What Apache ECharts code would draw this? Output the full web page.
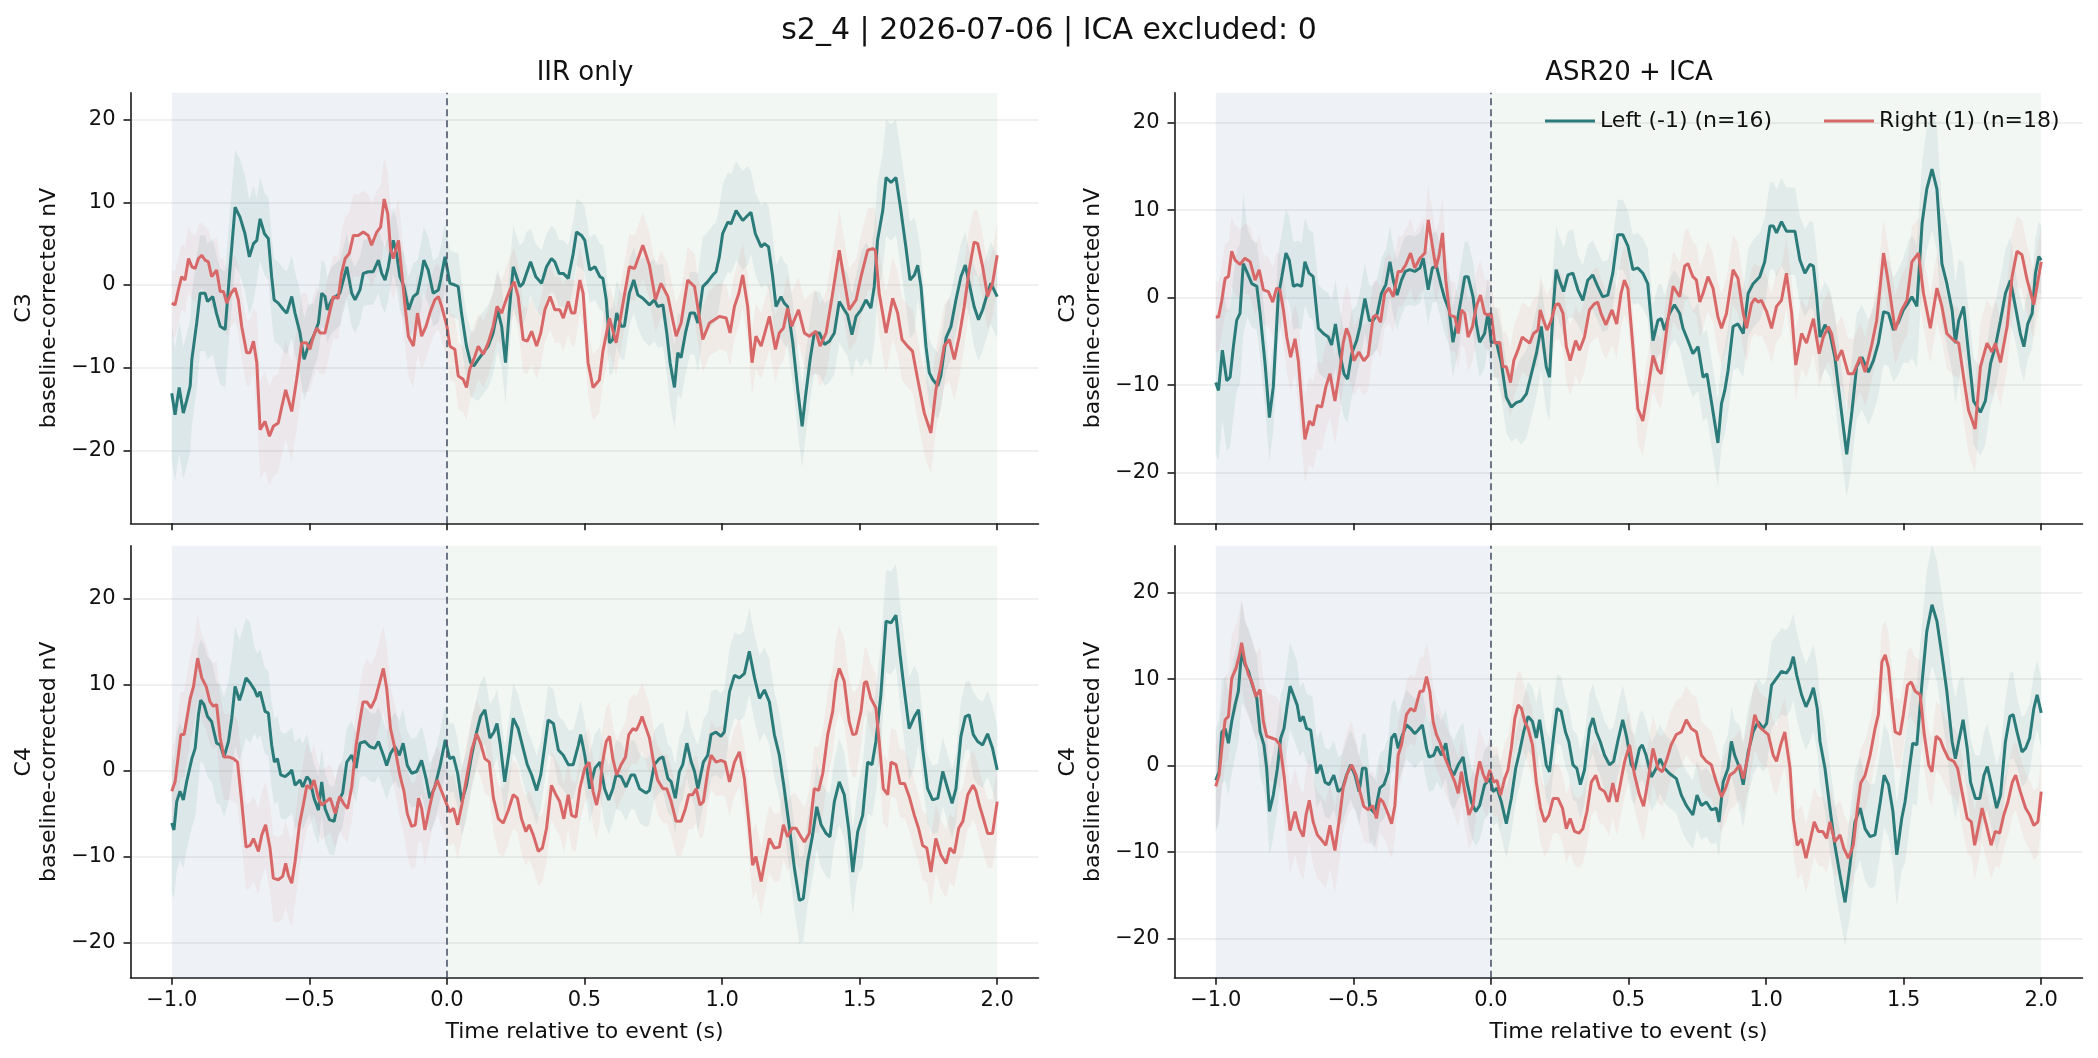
<!DOCTYPE html>
<html>
<head>
<meta charset="utf-8">
<script src="https://cdn.jsdelivr.net/npm/echarts@6/dist/echarts.min.js"></script>
<style>html,body{margin:0;padding:0;background:#fff}</style>
</head>
<body>
<div id="main" style="width:2098px;height:1058px"></div>
<script>
// class names as in the legend
var leftName = 'Left (-1) (n=16)';
var rightName = 'Right (1) (n=18)';

// mean traces, [time s, value nV]
var iirC3Left = [[-1.000,-13.1],[-0.988,-15.7],[-0.973,-12.4],[-0.958,-15.5],[-0.946,-14],[-0.933,-12.2],[-0.927,-9],[-0.909,-4.5],[-0.897,-1],[-0.879,-1],[-0.870,-2],[-0.851,-1.4],[-0.837,-3.5],[-0.824,-5],[-0.806,-5.4],[-0.788,2.2],[-0.770,9.4],[-0.752,8.2],[-0.734,6.2],[-0.718,3.4],[-0.703,5],[-0.691,5.4],[-0.679,8],[-0.663,6.2],[-0.649,5.6],[-0.637,1],[-0.628,-1.8],[-0.613,-2.2],[-0.594,-3],[-0.582,-3.4],[-0.564,-1.4],[-0.552,-3.4],[-0.534,-5.8],[-0.519,-9],[-0.504,-7.4],[-0.485,-6.2],[-0.467,-4.6],[-0.455,-1],[-0.443,-1.4],[-0.435,-3],[-0.419,-1.8],[-0.389,-1],[-0.364,2.2],[-0.346,-1],[-0.334,-1.8],[-0.316,-0.6],[-0.304,1.4],[-0.286,1.6],[-0.268,1.6],[-0.249,3],[-0.237,1.4],[-0.225,0.6],[-0.213,2.2],[-0.205,3.8],[-0.195,5.4],[-0.183,3.8],[-0.171,1],[-0.156,-0.2],[-0.139,-3],[-0.122,-1.4],[-0.107,-1],[-0.092,1.4],[-0.084,3],[-0.068,1.8],[-0.050,-1],[-0.031,-0.6],[-0.023,0.6],[-0.007,3.4],[0.011,0.2],[0.029,0],[0.041,-0.2],[0.053,-3.4],[0.071,-7.4],[0.086,-9.4],[0.098,-9.8],[0.114,-9],[0.132,-8.2],[0.150,-7.4],[0.168,-5.8],[0.184,-3],[0.199,-5],[0.213,-9.4],[0.226,-3.4],[0.241,2.2],[0.253,1],[0.265,-0.2],[0.277,0.2],[0.289,1.4],[0.304,2.8],[0.323,1],[0.344,0.2],[0.362,2.2],[0.380,3.2],[0.392,2.8],[0.408,1.4],[0.423,1.4],[0.441,0.8],[0.459,3.8],[0.471,6.4],[0.489,6],[0.501,5.4],[0.519,1.8],[0.538,2.2],[0.556,1],[0.567,0.8],[0.579,-1.8],[0.591,-7],[0.603,-6.6],[0.617,-3.4],[0.633,-5],[0.645,-5],[0.663,-1],[0.679,0.6],[0.694,-1.2],[0.712,-1.6],[0.736,-2.4],[0.754,-1.8],[0.766,-2.6],[0.785,-2.4],[0.799,-5.8],[0.811,-9.4],[0.827,-12.4],[0.839,-8.2],[0.851,-8.8],[0.867,-5.8],[0.884,-3.4],[0.900,-3.4],[0.912,-4.6],[0.930,-0.2],[0.948,0.4],[0.966,1.2],[0.978,1.6],[0.990,3.4],[1.002,6.2],[1.021,7.6],[1.033,7.4],[1.051,9],[1.075,7.8],[1.093,8.4],[1.105,8.8],[1.121,6.2],[1.142,4.6],[1.154,5],[1.169,4.6],[1.184,1],[1.196,-2.6],[1.214,-1.4],[1.226,-2.2],[1.238,-2.6],[1.257,-7],[1.275,-12.7],[1.291,-17.1],[1.305,-13],[1.320,-9],[1.335,-5.8],[1.354,-5.8],[1.372,-7.2],[1.390,-6.8],[1.408,-5.8],[1.426,-2],[1.444,-3],[1.456,-3.6],[1.472,-6],[1.487,-3.8],[1.505,-3],[1.523,-1.8],[1.541,-2.8],[1.553,-0.2],[1.565,5.4],[1.584,9],[1.596,13],[1.614,12.4],[1.632,13],[1.650,9],[1.668,4.6],[1.683,0.6],[1.699,1.2],[1.711,2.4],[1.723,-0.2],[1.741,-7.4],[1.753,-10.6],[1.765,-11.4],[1.784,-12.2],[1.795,-11],[1.814,-6.4],[1.832,-5],[1.850,-1.8],[1.868,1],[1.884,2.4],[1.898,0.2],[1.916,-2.6],[1.932,-4.2],[1.947,-3],[1.961,-1.4],[1.977,0.2],[2.000,-1.4]];
var iirC3Right = [[-1.000,-2.2],[-0.988,-2.4],[-0.976,-0.6],[-0.964,1],[-0.952,0.6],[-0.939,3.2],[-0.927,2.2],[-0.915,2],[-0.903,3.2],[-0.891,3.6],[-0.879,3],[-0.867,2.8],[-0.855,1],[-0.837,1.8],[-0.824,-0.8],[-0.812,-0.8],[-0.800,-2.2],[-0.785,-1],[-0.770,-0.4],[-0.758,-1.8],[-0.746,-5],[-0.728,-8.2],[-0.716,-8.2],[-0.703,-6.8],[-0.691,-9.4],[-0.679,-17.5],[-0.661,-16.5],[-0.645,-18.3],[-0.631,-17.1],[-0.613,-16.7],[-0.600,-14.7],[-0.586,-12.7],[-0.564,-15.3],[-0.546,-11.4],[-0.528,-7],[-0.510,-7],[-0.498,-7.8],[-0.485,-6.2],[-0.473,-5.2],[-0.461,-5.8],[-0.443,-5.8],[-0.427,-3.4],[-0.413,-1.4],[-0.395,-1.6],[-0.383,1.4],[-0.370,3.2],[-0.355,3.8],[-0.340,6],[-0.322,6],[-0.304,6.4],[-0.286,6],[-0.274,4.8],[-0.255,6.4],[-0.241,7],[-0.228,10.4],[-0.215,8.6],[-0.205,4.4],[-0.195,3.2],[-0.176,5.4],[-0.164,1.4],[-0.152,-2.6],[-0.140,-6.2],[-0.122,-7.4],[-0.107,-3.4],[-0.092,-6.2],[-0.076,-5],[-0.062,-3.4],[-0.044,-1.8],[-0.031,-1.4],[-0.019,-2.6],[0.000,-5],[0.011,-7.4],[0.029,-7.8],[0.041,-11],[0.059,-11.4],[0.071,-12.4],[0.083,-10.2],[0.102,-8.6],[0.114,-7.4],[0.132,-8.4],[0.150,-7],[0.168,-5],[0.182,-2.6],[0.199,-3.4],[0.215,-1.8],[0.229,-0.6],[0.244,0.4],[0.259,-1.4],[0.277,-6.6],[0.292,-6.8],[0.308,-5.6],[0.326,-7.4],[0.341,-5.8],[0.356,-3],[0.375,-1.4],[0.392,-3],[0.410,-3],[0.423,-4],[0.441,-2],[0.453,-3.4],[0.465,-3.4],[0.483,0.6],[0.495,-1],[0.513,-9.4],[0.531,-12.4],[0.554,-11.5],[0.567,-8],[0.591,-4],[0.615,-7],[0.663,2.2],[0.682,2],[0.712,4.8],[0.736,2.4],[0.758,-1.8],[0.778,0.2],[0.803,-1.4],[0.833,-6.2],[0.851,-4.6],[0.875,0.6],[0.900,-0.2],[0.930,-6.6],[0.954,-4.6],[0.972,-4.2],[0.990,-3.8],[1.015,-4],[1.029,-5.8],[1.045,-2.6],[1.061,-1],[1.075,1.2],[1.093,-2.6],[1.109,-9.4],[1.123,-6.2],[1.142,-7.4],[1.172,-3.8],[1.194,-7.8],[1.208,-5.8],[1.223,-5.2],[1.238,-2.8],[1.253,-5],[1.278,-3],[1.299,-5.8],[1.317,-6.2],[1.341,-5.6],[1.356,-7.4],[1.378,-5.8],[1.402,-1],[1.426,4.2],[1.444,0.6],[1.462,-3],[1.487,-1.8],[1.505,1],[1.529,4.2],[1.547,4.4],[1.557,4.2],[1.571,-1],[1.596,-5.8],[1.620,-1.6],[1.638,-3.4],[1.654,-6.6],[1.674,-7.4],[1.692,-8],[1.711,-11.4],[1.735,-15.5],[1.759,-17.9],[1.777,-12.7],[1.795,-9.8],[1.807,-7.4],[1.826,-6.6],[1.844,-9],[1.862,-6.2],[1.880,-2.6],[1.898,1.8],[1.916,5.2],[1.929,5],[1.947,2.2],[1.965,-1.4],[1.983,0.2],[2.000,3.6]];
var asrC3Left = [[-1.000,-9.7],[-0.990,-10.6],[-0.976,-6],[-0.960,-9.5],[-0.948,-9.1],[-0.936,-5.6],[-0.924,-2.6],[-0.912,-1.8],[-0.900,3.9],[-0.885,2.8],[-0.869,1.6],[-0.851,1.3],[-0.839,-1.8],[-0.821,-7.5],[-0.805,-13.7],[-0.791,-10.2],[-0.773,0.1],[-0.760,2.4],[-0.745,5.1],[-0.733,4.3],[-0.718,1.3],[-0.704,1.5],[-0.688,1.3],[-0.676,4.1],[-0.661,2.8],[-0.646,2.4],[-0.627,-3.5],[-0.609,-4.1],[-0.591,-4.5],[-0.579,-5.4],[-0.565,-3],[-0.549,-6.4],[-0.534,-8.7],[-0.521,-9.3],[-0.506,-6.4],[-0.488,-4.9],[-0.476,-3.3],[-0.458,-0.1],[-0.442,-2.6],[-0.428,-2.6],[-0.413,-1.8],[-0.398,0.5],[-0.382,1.5],[-0.367,4.1],[-0.355,2],[-0.341,0.3],[-0.325,2],[-0.311,3],[-0.295,3.2],[-0.277,3],[-0.258,3.4],[-0.246,4.5],[-0.228,0.9],[-0.213,3.4],[-0.198,3.6],[-0.180,1.3],[-0.168,-0.1],[-0.152,-1.4],[-0.138,-5.1],[-0.122,-2.6],[-0.107,0.1],[-0.095,2.4],[-0.083,2.4],[-0.065,0.1],[-0.053,-3],[-0.041,-5.1],[-0.023,-4.1],[-0.011,-1.8],[0.001,-5.1],[0.020,-5.1],[0.038,-7.5],[0.056,-11.4],[0.074,-12.5],[0.092,-12],[0.110,-11.8],[0.129,-11],[0.147,-8.7],[0.165,-6.4],[0.183,-3.3],[0.201,-7.9],[0.213,-9.1],[0.225,-1.8],[0.237,3.2],[0.249,2],[0.264,0.7],[0.280,2.6],[0.298,2.8],[0.316,0.9],[0.334,-0.3],[0.352,2],[0.370,2.6],[0.388,1.3],[0.406,0.1],[0.425,0.3],[0.443,2.8],[0.461,7.2],[0.479,7.2],[0.498,5.9],[0.516,3.2],[0.534,3.4],[0.552,2.8],[0.570,1.6],[0.589,-4.9],[0.607,-2.6],[0.619,-2.4],[0.631,-3.7],[0.649,-1.8],[0.667,-0.8],[0.686,-1.8],[0.698,-3.5],[0.716,-4.9],[0.734,-6.4],[0.753,-5.6],[0.771,-9.1],[0.785,-8.7],[0.801,-11.8],[0.825,-16.6],[0.838,-12.1],[0.850,-10.6],[0.862,-8.3],[0.880,-3.3],[0.898,-3],[0.917,-4.1],[0.935,0.5],[0.953,1.6],[0.977,2.4],[0.995,4.1],[1.014,8.2],[1.026,8.2],[1.038,7.4],[1.056,8.7],[1.074,7.6],[1.105,7.6],[1.123,4.3],[1.141,2.8],[1.159,3.8],[1.172,3.6],[1.184,0.1],[1.196,-4.5],[1.214,-3.1],[1.232,-4.1],[1.250,-6.8],[1.269,-11.8],[1.293,-17.9],[1.311,-13.3],[1.329,-7.9],[1.348,-6.8],[1.372,-8.5],[1.390,-7.2],[1.408,-5.2],[1.427,-1.6],[1.445,-1.8],[1.463,-3.7],[1.481,-2.8],[1.499,-1.4],[1.518,-0.5],[1.530,0.1],[1.548,-1],[1.567,8.5],[1.584,12.4],[1.603,14.7],[1.621,12.4],[1.639,3.9],[1.657,1.6],[1.676,-1.4],[1.688,-5.2],[1.700,-2.6],[1.718,-1],[1.736,-6.4],[1.754,-11.8],[1.779,-13.1],[1.797,-11.8],[1.816,-7.5],[1.833,-5.6],[1.852,-2.6],[1.870,0.5],[1.888,2],[1.906,-1],[1.924,-4.1],[1.937,-5.6],[1.951,-3],[1.967,-1.8],[1.979,2.8],[1.991,4.7],[2.000,4.3]];
var asrC3Right = [[-1.000,-2.2],[-0.990,-2.2],[-0.978,-0.3],[-0.966,2.2],[-0.954,2.4],[-0.942,5.3],[-0.930,4.3],[-0.912,3.8],[-0.894,4.5],[-0.875,4.1],[-0.857,2],[-0.842,3.2],[-0.827,0.9],[-0.809,0.7],[-0.793,-0.5],[-0.779,1.1],[-0.767,0.9],[-0.754,-1.4],[-0.742,-4.5],[-0.728,-6.8],[-0.712,-4.7],[-0.700,-7.2],[-0.688,-11.8],[-0.676,-16.2],[-0.660,-14.1],[-0.646,-14.6],[-0.631,-12.3],[-0.615,-12.5],[-0.600,-10.2],[-0.585,-8.7],[-0.567,-11.8],[-0.549,-8.3],[-0.537,-5.2],[-0.525,-3.5],[-0.513,-4.5],[-0.498,-7.2],[-0.480,-6.2],[-0.462,-7.2],[-0.446,-6.6],[-0.428,-2.2],[-0.416,-2],[-0.401,-2.8],[-0.386,0.5],[-0.370,1.1],[-0.355,0.1],[-0.337,3],[-0.325,3],[-0.309,3.8],[-0.292,5.1],[-0.277,3.4],[-0.258,4.5],[-0.240,5.1],[-0.228,8.9],[-0.216,6.6],[-0.200,3.4],[-0.188,4.9],[-0.176,7.4],[-0.164,2],[-0.149,-2],[-0.131,-2.2],[-0.119,-4.1],[-0.107,-1.4],[-0.095,-1.8],[-0.083,-4.5],[-0.067,-3.3],[-0.053,-1],[-0.038,0.3],[-0.023,-1.8],[-0.011,-2],[0.001,-1.8],[0.014,-5.2],[0.032,-5.1],[0.044,-7.9],[0.056,-7.9],[0.071,-9.7],[0.083,-7.2],[0.098,-6],[0.114,-4.5],[0.129,-4.9],[0.141,-5.2],[0.155,-4.1],[0.171,-3.7],[0.179,-1.4],[0.189,-2.4],[0.204,-3.7],[0.219,-2.6],[0.235,-0.8],[0.247,-0.7],[0.262,-1.8],[0.274,-5.6],[0.288,-7.2],[0.308,-4.9],[0.322,-6],[0.340,-4.5],[0.358,-1.4],[0.376,-0.7],[0.388,-0.5],[0.400,-1.8],[0.418,-3.1],[0.440,-1.4],[0.457,-3],[0.473,0.5],[0.485,2],[0.498,1],[0.516,-5.6],[0.534,-12.7],[0.552,-14.1],[0.570,-10.6],[0.589,-6.6],[0.607,-8.3],[0.619,-8.7],[0.643,-2.6],[0.662,1.3],[0.686,0.1],[0.704,3.6],[0.716,3.9],[0.734,2.4],[0.747,2],[0.759,-0.5],[0.771,0.5],[0.789,2.4],[0.807,1.1],[0.825,-2.2],[0.838,-3.5],[0.856,-1.8],[0.880,3.2],[0.898,2.2],[0.917,-1.8],[0.929,-3.5],[0.947,-0.7],[0.959,-0.1],[0.971,-0.5],[0.983,-0.3],[1.002,-1.6],[1.020,-3.5],[1.038,-1],[1.056,-0.3],[1.074,2.8],[1.093,-1.8],[1.108,-7.7],[1.129,-4.1],[1.147,-5.2],[1.172,-2.4],[1.193,-6.4],[1.208,-4.5],[1.226,-3.3],[1.238,-4.1],[1.257,-7.2],[1.275,-6],[1.299,-8.7],[1.317,-8.7],[1.342,-6.8],[1.360,-8.5],[1.384,-5.4],[1.402,-2.6],[1.427,5.1],[1.445,1.6],[1.469,-3.7],[1.493,-1.4],[1.512,-0.3],[1.530,4.1],[1.554,5.1],[1.572,0.5],[1.597,-3.5],[1.621,1.1],[1.639,-1],[1.657,-4.1],[1.682,-4.9],[1.700,-5.2],[1.718,-9.1],[1.736,-12.9],[1.760,-15],[1.779,-7.9],[1.803,-5.2],[1.821,-6.2],[1.833,-5.2],[1.852,-7.4],[1.876,-3.3],[1.894,2.4],[1.912,5.3],[1.930,4.9],[1.949,2],[1.973,-0.8],[2.000,4.1]];
var iirC4Left = [[-1.000,-6.1],[-0.992,-6.9],[-0.982,-3.6],[-0.970,-2.4],[-0.958,-3.4],[-0.946,-1.3],[-0.927,1.4],[-0.915,2.6],[-0.903,6.5],[-0.895,8.2],[-0.883,7.7],[-0.870,6.3],[-0.855,5.7],[-0.837,3.2],[-0.824,3],[-0.810,1.6],[-0.794,3.4],[-0.782,6.1],[-0.770,9.8],[-0.754,8.2],[-0.742,9.4],[-0.730,10.8],[-0.715,10.2],[-0.699,9.4],[-0.689,8.6],[-0.679,9.2],[-0.661,6.9],[-0.649,6.7],[-0.637,3],[-0.627,1],[-0.616,1.4],[-0.604,-0.5],[-0.588,-0.7],[-0.573,-0.3],[-0.564,0.1],[-0.552,-1.7],[-0.534,-1.1],[-0.524,-1.9],[-0.509,-0.7],[-0.498,-1.1],[-0.483,-3.2],[-0.467,-4.6],[-0.455,-1.3],[-0.443,-4.4],[-0.427,-5.7],[-0.410,-5.9],[-0.395,-3.6],[-0.379,-2.6],[-0.364,1],[-0.346,1.8],[-0.330,0.3],[-0.316,3.2],[-0.298,3.4],[-0.280,2.8],[-0.262,2.6],[-0.249,3.4],[-0.231,1.8],[-0.219,0.6],[-0.205,2],[-0.189,2.8],[-0.173,1.8],[-0.159,3.2],[-0.144,0.6],[-0.128,-0.3],[-0.110,-0.1],[-0.092,1.2],[-0.076,-0.9],[-0.062,-3.2],[-0.044,-1.9],[-0.024,0.7],[-0.006,3.6],[0.010,1.4],[0.024,1.6],[0.039,-0.3],[0.054,-3.6],[0.071,-1.7],[0.090,1.8],[0.108,4.5],[0.122,6.3],[0.138,7.1],[0.156,3.8],[0.171,4.5],[0.182,5.5],[0.194,3],[0.210,-1.3],[0.226,2.2],[0.241,6.1],[0.259,4.9],[0.277,2.6],[0.292,0.7],[0.308,-0.5],[0.326,-2.3],[0.341,-0.5],[0.356,3],[0.368,5.9],[0.387,5.5],[0.405,2.4],[0.423,1.8],[0.441,0.7],[0.459,0.7],[0.478,3],[0.486,4.2],[0.501,1.8],[0.519,-2.1],[0.538,0.3],[0.556,1],[0.573,-2.1],[0.588,-3.4],[0.603,-2.1],[0.615,-0.5],[0.633,-0.7],[0.651,-1.9],[0.669,-0.5],[0.682,-0.5],[0.700,-2.1],[0.724,-2.6],[0.736,-2.3],[0.754,0.7],[0.772,1.4],[0.785,1.6],[0.803,-0.9],[0.815,-1.3],[0.830,-3.2],[0.845,-0.1],[0.857,0.7],[0.872,3.2],[0.888,1],[0.900,-0.1],[0.912,-2.1],[0.932,1],[0.948,1.8],[0.960,4.2],[0.978,4.5],[0.996,4],[1.008,4.5],[1.027,9.2],[1.045,11.1],[1.063,10.8],[1.081,11.3],[1.099,13.9],[1.118,10.8],[1.136,8.4],[1.154,9.4],[1.172,8],[1.190,4.2],[1.208,1.8],[1.226,-2.1],[1.245,-6.7],[1.263,-11.4],[1.281,-15.1],[1.295,-14.9],[1.311,-10.6],[1.329,-7.5],[1.344,-4.2],[1.360,-6.3],[1.378,-7.3],[1.392,-7.7],[1.408,-3.6],[1.426,-1.3],[1.444,-2.8],[1.460,-6.7],[1.475,-11.8],[1.493,-7.1],[1.511,-5.2],[1.529,1],[1.545,0.7],[1.559,3.4],[1.577,8.8],[1.596,17.4],[1.614,17.2],[1.632,18.1],[1.647,13.5],[1.663,9.2],[1.680,4.9],[1.699,6.3],[1.714,7.1],[1.729,2.6],[1.747,-2.1],[1.765,-3.4],[1.784,-3.2],[1.802,-0.1],[1.820,-2.1],[1.836,-3.8],[1.850,-2.1],[1.868,4],[1.884,6.3],[1.898,6.5],[1.913,4.2],[1.929,3.4],[1.947,3],[1.965,4.3],[1.983,2.6],[2.000,0.1]];
var iirC4Right = [[-1.000,-2.4],[-0.988,-1.3],[-0.976,1.8],[-0.967,4.2],[-0.955,4.2],[-0.946,5.9],[-0.933,8.4],[-0.921,9.8],[-0.906,13.1],[-0.891,10.8],[-0.875,9.8],[-0.861,8],[-0.849,7.5],[-0.837,7.7],[-0.824,3.8],[-0.810,1.6],[-0.794,1.6],[-0.776,1.4],[-0.761,1],[-0.746,-3.6],[-0.730,-8.9],[-0.715,-8.7],[-0.703,-7.9],[-0.685,-9.4],[-0.673,-7.5],[-0.659,-6.3],[-0.643,-9],[-0.631,-12.5],[-0.613,-12.7],[-0.597,-12.3],[-0.586,-10.8],[-0.576,-12.2],[-0.564,-13.1],[-0.552,-10.6],[-0.536,-6.3],[-0.522,-4],[-0.509,-1.7],[-0.495,-2.1],[-0.483,-1.1],[-0.467,-3.2],[-0.455,-4],[-0.439,-3.6],[-0.424,-3.2],[-0.406,-5],[-0.390,-3],[-0.376,-3.8],[-0.361,-4.4],[-0.346,-1.9],[-0.330,3],[-0.317,5.7],[-0.305,8],[-0.291,8],[-0.276,7.3],[-0.260,8.4],[-0.245,10.2],[-0.231,11.9],[-0.219,9.6],[-0.205,4.9],[-0.189,2.6],[-0.171,-0.5],[-0.156,-2.4],[-0.144,-5],[-0.128,-6.5],[-0.115,-6.3],[-0.103,-3.2],[-0.092,-4.4],[-0.080,-6.9],[-0.064,-4.4],[-0.050,-2.4],[-0.035,-1.1],[-0.023,-2.1],[-0.007,-3.4],[0.010,-4.8],[0.024,-4.4],[0.039,-6.3],[0.054,-4],[0.071,-0.9],[0.090,2.4],[0.108,4.3],[0.122,3.2],[0.138,1.4],[0.154,1],[0.169,-3.2],[0.187,-5.6],[0.205,-6.1],[0.223,-4.6],[0.241,-2.8],[0.256,-3.2],[0.271,-5.6],[0.287,-7.1],[0.299,-6.3],[0.314,-7.5],[0.332,-9.4],[0.347,-9],[0.362,-6.7],[0.380,-1.7],[0.396,-2.8],[0.410,-3.6],[0.425,-5.6],[0.441,-2.8],[0.453,-5.2],[0.469,-5.4],[0.483,-2.1],[0.501,0.3],[0.517,1],[0.531,-2.4],[0.544,-4],[0.556,-2.1],[0.564,0.7],[0.579,3.4],[0.591,4],[0.603,1.4],[0.617,-0.5],[0.633,0.7],[0.649,1.6],[0.661,4.2],[0.676,4.9],[0.688,4.7],[0.700,5.5],[0.709,6.3],[0.722,5.1],[0.736,3.8],[0.751,1],[0.766,-1.1],[0.785,-2.1],[0.799,-2.1],[0.815,-3.6],[0.833,-5.9],[0.851,-5.9],[0.867,-4.4],[0.879,-2.8],[0.893,-2.8],[0.906,-2.1],[0.920,-4],[0.932,-3.6],[0.948,-0.1],[0.960,1.8],[0.978,1],[0.996,1.2],[1.011,1],[1.027,-1.3],[1.045,1],[1.063,2.2],[1.081,-0.9],[1.097,-5.9],[1.111,-11],[1.123,-10],[1.142,-12.9],[1.154,-10.8],[1.172,-7.9],[1.190,-9],[1.208,-8.9],[1.223,-6.3],[1.238,-7.7],[1.254,-6.7],[1.269,-6.7],[1.283,-7.5],[1.299,-8.3],[1.317,-7.3],[1.335,-2.1],[1.351,-2.3],[1.366,-0.3],[1.384,4.2],[1.402,6.9],[1.414,10.4],[1.426,11.9],[1.444,10.4],[1.462,5.7],[1.475,4.2],[1.487,4.3],[1.505,6.9],[1.517,10.2],[1.525,10.4],[1.541,8.4],[1.559,7.3],[1.571,3.4],[1.586,-2.1],[1.602,-2.8],[1.614,1],[1.632,0.7],[1.647,-1.5],[1.663,-1.5],[1.680,-3],[1.699,-5.2],[1.714,-6.7],[1.729,-8.7],[1.744,-9],[1.759,-11.8],[1.777,-7.9],[1.795,-9.8],[1.814,-10.8],[1.828,-9],[1.844,-9.6],[1.860,-6.7],[1.875,-5.9],[1.893,-2.8],[1.912,-1.7],[1.923,-2.4],[1.935,-4],[1.950,-5.6],[1.965,-7.3],[1.983,-7.3],[2.000,-3.6]];
var asrC4Left = [[-1.000,-1.7],[-0.988,-0.7],[-0.978,3.9],[-0.966,4.3],[-0.954,2.6],[-0.942,5.1],[-0.930,7],[-0.918,8.6],[-0.906,13.2],[-0.894,11.7],[-0.881,10.9],[-0.866,9.2],[-0.851,7.8],[-0.839,3.9],[-0.825,2.4],[-0.815,-0.3],[-0.805,-5.3],[-0.791,-3.4],[-0.776,-0.3],[-0.764,3.2],[-0.752,4.3],[-0.742,6.6],[-0.730,9.2],[-0.718,8.2],[-0.704,7],[-0.694,5.1],[-0.682,5.7],[-0.670,4.3],[-0.655,4.1],[-0.648,3.9],[-0.633,-0.9],[-0.619,0.1],[-0.603,-1.9],[-0.588,-2.2],[-0.571,-1.1],[-0.555,-3],[-0.539,-2.6],[-0.525,-1.1],[-0.510,0.1],[-0.494,-1.1],[-0.479,-3],[-0.467,-0.3],[-0.454,-0.3],[-0.440,-4.9],[-0.422,-5.5],[-0.404,-2.6],[-0.389,-2.2],[-0.373,-0.7],[-0.361,3.2],[-0.349,3.7],[-0.337,2],[-0.321,3.6],[-0.307,4.7],[-0.292,4.3],[-0.277,3.7],[-0.265,4.1],[-0.249,4.7],[-0.234,2],[-0.225,1],[-0.208,1.2],[-0.196,2.2],[-0.180,1.2],[-0.164,2.6],[-0.149,-0.3],[-0.135,-1.1],[-0.119,0.1],[-0.101,1],[-0.087,-1.9],[-0.071,-4.2],[-0.055,-5.3],[-0.041,-4.6],[-0.023,-2.2],[-0.004,-1.5],[0.008,-3],[0.022,-2.6],[0.038,-4.2],[0.056,-6.7],[0.074,-3.8],[0.090,-0.3],[0.104,1.6],[0.119,3.9],[0.135,5.7],[0.151,5.1],[0.165,3.2],[0.177,5.3],[0.189,2.8],[0.201,0.1],[0.213,-0.7],[0.227,3.2],[0.240,6.6],[0.255,6.3],[0.271,3.9],[0.283,2.8],[0.298,0.1],[0.312,-0.3],[0.325,-2.2],[0.340,-0.5],[0.358,4.3],[0.371,5.5],[0.383,3.9],[0.397,2.8],[0.413,1.2],[0.431,0.1],[0.446,0.5],[0.461,2.8],[0.479,5.3],[0.494,3.2],[0.510,0.1],[0.522,-0.5],[0.540,2],[0.550,2.4],[0.564,1.2],[0.583,-1.3],[0.601,-0.3],[0.615,0.8],[0.631,-0.3],[0.649,-0.9],[0.674,-1.5],[0.692,-3.4],[0.710,-4.6],[0.734,-5.7],[0.749,-3.4],[0.765,-4.6],[0.783,-4.2],[0.801,-5.1],[0.819,-4.9],[0.829,-6.5],[0.844,-1.9],[0.862,-0.3],[0.874,2.8],[0.886,1.2],[0.904,-0.3],[0.917,-2.2],[0.935,1.6],[0.953,3.9],[0.971,5.1],[0.989,4.3],[1.002,4.9],[1.020,9.3],[1.038,10.1],[1.056,10.9],[1.074,10.7],[1.087,11.3],[1.099,12.6],[1.111,10.5],[1.129,8.2],[1.145,6.8],[1.159,7.8],[1.172,9],[1.186,6.6],[1.196,2.8],[1.214,-0.3],[1.232,-4.9],[1.250,-9.2],[1.269,-12.7],[1.287,-15.8],[1.305,-11.5],[1.323,-6.5],[1.342,-4.9],[1.360,-7.3],[1.378,-8.2],[1.396,-8],[1.415,-4.2],[1.429,-1.1],[1.445,-2.2],[1.461,-5.3],[1.475,-10.3],[1.493,-6.1],[1.505,-4.2],[1.521,-0.3],[1.533,2.6],[1.548,2.4],[1.566,9.3],[1.584,15.5],[1.603,18.6],[1.621,16.7],[1.639,12.8],[1.657,8.6],[1.676,2.8],[1.688,0.8],[1.700,2.8],[1.716,5.3],[1.731,2],[1.743,-1.9],[1.761,-3.8],[1.777,-3.8],[1.792,-1.1],[1.804,-0.1],[1.822,-2.6],[1.838,-4.9],[1.852,-3.4],[1.870,2.8],[1.886,5.7],[1.898,5.9],[1.912,3.9],[1.930,1.6],[1.943,2],[1.958,3.2],[1.973,6.6],[1.985,8.2],[2.000,6.1]];
var asrC4Right = [[-1.000,-2.4],[-0.988,-1.1],[-0.978,2],[-0.966,5.3],[-0.954,5.7],[-0.942,10.1],[-0.926,11.3],[-0.914,12.8],[-0.906,14.2],[-0.894,12],[-0.881,10.5],[-0.869,9.7],[-0.854,8],[-0.839,8.8],[-0.827,5.1],[-0.815,3.4],[-0.797,3.2],[-0.781,3],[-0.767,2.4],[-0.752,-1.1],[-0.742,-4.2],[-0.730,-7.5],[-0.712,-5.3],[-0.696,-7.3],[-0.682,-8.2],[-0.672,-5.7],[-0.660,-4],[-0.646,-6.5],[-0.631,-8],[-0.615,-8.6],[-0.600,-9.2],[-0.585,-6.9],[-0.567,-9.8],[-0.549,-5.7],[-0.537,-2.6],[-0.522,-0.9],[-0.506,0.1],[-0.490,-1.1],[-0.476,-3],[-0.462,-4.7],[-0.446,-5.1],[-0.430,-4.6],[-0.416,-6.1],[-0.404,-3.8],[-0.392,-4.2],[-0.377,-5.3],[-0.361,-6.7],[-0.349,-4.6],[-0.337,1.2],[-0.325,2.4],[-0.307,5.9],[-0.292,6.6],[-0.277,6.3],[-0.258,8.6],[-0.246,8.6],[-0.234,10.3],[-0.222,8.6],[-0.210,5.1],[-0.198,3.6],[-0.184,2.6],[-0.168,1],[-0.149,-0.5],[-0.131,-1.9],[-0.119,-3.2],[-0.107,-0.7],[-0.095,-3],[-0.080,-5.7],[-0.065,-4.6],[-0.053,-1.5],[-0.041,0.5],[-0.029,-0.9],[-0.016,-1.9],[-0.004,-0.5],[0.010,-1.9],[0.022,-1.7],[0.035,-3.4],[0.050,-1.5],[0.062,-0.5],[0.074,2],[0.087,5.5],[0.099,7],[0.111,6.6],[0.123,5.1],[0.135,4.3],[0.151,2.4],[0.165,-1.9],[0.180,-4.9],[0.195,-6.5],[0.211,-5.7],[0.226,-3.8],[0.244,-3.8],[0.260,-4.9],[0.274,-7.3],[0.288,-6.1],[0.304,-7.6],[0.320,-7.8],[0.334,-7.3],[0.349,-5.3],[0.365,-1.9],[0.381,-1.1],[0.395,-2.6],[0.413,-3],[0.429,-4.2],[0.443,-2],[0.458,-4.2],[0.474,-1.5],[0.486,0.5],[0.504,2.4],[0.522,-1.1],[0.540,-3.4],[0.555,-4.7],[0.570,-1.9],[0.589,2],[0.607,-0.3],[0.623,-0.7],[0.640,0.8],[0.655,2.4],[0.674,3.6],[0.692,3.9],[0.710,5.3],[0.728,4.3],[0.747,3.9],[0.765,1.2],[0.783,0.5],[0.801,0.1],[0.819,-1.9],[0.838,-3.6],[0.853,-2.6],[0.868,-1.1],[0.886,-0.7],[0.904,0.1],[0.917,-1.5],[0.935,1.2],[0.947,3.6],[0.959,5.9],[0.975,4.5],[0.989,4.1],[1.008,3.6],[1.026,1.2],[1.038,0.5],[1.053,2.4],[1.068,3.9],[1.087,-0.3],[1.099,-6.1],[1.113,-9.2],[1.129,-8.5],[1.145,-10.7],[1.159,-8.8],[1.175,-6.5],[1.190,-7.6],[1.206,-7.6],[1.220,-8.4],[1.232,-6.5],[1.250,-8.8],[1.269,-8],[1.283,-9.6],[1.299,-10.7],[1.317,-9.2],[1.332,-4.9],[1.344,-2],[1.360,-1.1],[1.378,1.2],[1.396,4.3],[1.408,5.9],[1.421,12],[1.433,12.8],[1.445,11.3],[1.457,7.4],[1.469,3.9],[1.487,3.6],[1.499,5.9],[1.514,9.3],[1.527,9.7],[1.542,8.6],[1.560,8.2],[1.575,3.6],[1.591,0.1],[1.603,-0.7],[1.618,3.4],[1.633,3],[1.645,2],[1.663,0.8],[1.682,0.5],[1.696,-0.3],[1.712,-3],[1.731,-6.1],[1.746,-6.5],[1.758,-9.2],[1.773,-6.9],[1.785,-4.9],[1.801,-6.9],[1.818,-9.2],[1.833,-7.6],[1.849,-7.8],[1.864,-5.7],[1.879,-4.2],[1.895,-1.9],[1.907,-1.1],[1.924,-3],[1.943,-4.9],[1.958,-5.7],[1.973,-6.9],[1.988,-6.5],[2.000,-3]];

// standard-error half widths, sampled every 0.2 s
var semTimes = [-1.0,-0.8,-0.6,-0.4,-0.2,0.0,0.2,0.4,0.6,0.8,1.0,1.2,1.4,1.6,1.8,2.0];
var iirC3LeftSem  = [8,7,5,4,4,4,5,4,4,5,6,5,5,7,4,5];
var iirC3RightSem = [4,4,6,5,5,4,4,4,4,4,4,4,5,5,5,4];
var asrC3LeftSem  = [8,5,5,4,4,4,5,4,4,5,5,5,6,7,5,4];
var asrC3RightSem = [4,4,5,4,4,4,4,4,4,4,4,4,4,4,5,4];
var iirC4LeftSem  = [8,7,5,4,4,4,4,4,4,4,5,5,5,6,4,5];
var iirC4RightSem = [5,5,5,4,5,4,4,4,4,4,4,4,5,4,4,4];
var asrC4LeftSem  = [6,5,4,4,4,4,4,4,4,4,5,5,6,7,5,4];
var asrC4RightSem = [5,5,5,4,4,4,4,4,4,4,4,4,4,4,4,4];

var xTicks = [-1.0,-0.5,0.0,0.5,1.0,1.5,2.0];
var yTicks = [-20,-10,0,10,20];

var teal = '#2a7b79';
var red = '#d86868';
var font = 'DejaVu Sans';

function semAt(sem, t) {
  var best = 0;
  for (var k = 1; k < semTimes.length; k++) {
    if (Math.abs(semTimes[k] - t) < Math.abs(semTimes[best] - t)) best = k;
  }
  return sem[best];
}
function minus(s) { return s.charAt(0) == '-' ? '\u2212' + s.slice(1) : s; }

// shaded mean +/- sem band as one polygon, placed with the axis scales
function bandSeries(i, pts, sem, color) {
  return {
    type: 'custom', xAxisIndex: i, yAxisIndex: i, z: 2, silent: true, clip: true,
    data: [[pts[0][0], pts[0][1]]],
    renderItem: function (params, api) {
      var poly = [];
      for (var k = 0; k < pts.length; k++) {
        poly.push(api.coord([pts[k][0], pts[k][1] + semAt(sem, pts[k][0])]));
      }
      for (var k = pts.length - 1; k >= 0; k--) {
        poly.push(api.coord([pts[k][0], pts[k][1] - semAt(sem, pts[k][0])]));
      }
      return {type: 'polygon', shape: {points: poly}, style: {fill: color}};
    }
  };
}

var panels = [
  {left: 130.5, top: 92.7, height: 430.6, yMin: -28.83, yMax: 23.26, lines: [iirC3Left, iirC3Right], sems: [iirC3LeftSem, iirC3RightSem], yName: 'C3\nbaseline-corrected nV', labels: false},
  {left: 1174.5, top: 92.7, height: 430.6, yMin: -25.79, yMax: 23.43, lines: [asrC3Left, asrC3Right], sems: [asrC3LeftSem, asrC3RightSem], yName: 'C3\nbaseline-corrected nV', labels: false},
  {left: 130.5, top: 545.7, height: 432, yMin: -24.1, yMax: 26.19, lines: [iirC4Left, iirC4Right], sems: [iirC4LeftSem, iirC4RightSem], yName: 'C4\nbaseline-corrected nV', labels: true},
  {left: 1174.5, top: 545.7, height: 432, yMin: -24.51, yMax: 25.43, lines: [asrC4Left, asrC4Right], sems: [asrC4LeftSem, asrC4RightSem], yName: 'C4\nbaseline-corrected nV', labels: true}
];

var grids = [], xAxes = [], yAxes = [], series = [];
var spine = {color: '#1a1a1a', width: 1.6};

panels.forEach(function (p, i) {
  grids.push({left: p.left, top: p.top, width: 908, height: p.height});
  xAxes.push({
    type: 'value', gridIndex: i, min: -1.15, max: 2.15,
    axisLine: {onZero: false, lineStyle: spine},
    axisTick: {length: 7, lineStyle: spine, customValues: xTicks},
    axisLabel: {show: p.labels, customValues: xTicks, margin: 12, fontSize: 21, color: '#111', fontFamily: font,
      formatter: function (v) { return minus(v.toFixed(1)); }},
    splitLine: {show: false},
    name: p.labels ? 'Time relative to event (s)' : '',
    nameLocation: 'middle', nameGap: 44,
    nameTextStyle: {fontSize: 22, color: '#111', fontFamily: font}
  });
  yAxes.push({
    type: 'value', gridIndex: i, min: p.yMin, max: p.yMax,
    axisLine: {show: true, onZero: false, lineStyle: spine},
    axisTick: {show: true, length: 7, lineStyle: spine, customValues: yTicks},
    axisLabel: {customValues: yTicks, margin: 15, fontSize: 21, color: '#111', fontFamily: font,
      formatter: function (v) { return minus(String(v)); }},
    splitLine: {show: true, lineStyle: {color: 'rgba(0,0,0,0.08)', width: 1.5}},
    name: p.yName, nameLocation: 'middle', nameGap: 69, nameRotate: 90,
    nameTextStyle: {fontSize: 22, lineHeight: 25, color: '#111', fontFamily: font}
  });

  // baseline / post-event shading and event marker
  series.push({
    type: 'line', name: 'shade' + i, xAxisIndex: i, yAxisIndex: i, z: 1, silent: true,
    data: p.lines[0], symbol: 'none', lineStyle: {opacity: 0},
    markArea: {silent: true, data: [
      [{xAxis: -1, itemStyle: {color: 'rgba(85,125,165,0.1)'}}, {xAxis: 0}],
      [{xAxis: 0, itemStyle: {color: 'rgba(105,155,118,0.08)'}}, {xAxis: 2}]
    ]},
    markLine: {silent: true, symbol: ['none', 'none'], label: {show: false},
      lineStyle: {color: '#4a5568', type: [7, 4], width: 1.6}, data: [{xAxis: 0}]}
  });

  series.push(bandSeries(i, p.lines[0], p.sems[0], 'rgba(42,123,121,0.09)'));
  series.push(bandSeries(i, p.lines[1], p.sems[1], 'rgba(216,104,104,0.08)'));

  var cols = [teal, red];
  p.lines.forEach(function (pts, j) {
    series.push({
      type: 'line', name: j == 0 ? leftName : rightName, xAxisIndex: i, yAxisIndex: i, z: 3,
      data: pts, symbol: 'none', itemStyle: {color: cols[j]},
      lineStyle: {color: cols[j], width: 3}
    });
  });
});

var chart = echarts.init(document.getElementById('main'), null, {renderer: 'canvas'});
chart.setOption({
  animation: false,
  backgroundColor: '#ffffff',
  textStyle: {fontFamily: font},
  title: [
    {text: 's2_4 | 2026-07-06 | ICA excluded: 0', left: 'center', top: 16, padding: 0,
      textStyle: {fontSize: 30, fontWeight: 'normal', color: '#111', fontFamily: font}},
    {text: 'IIR only', left: 585, top: 60, textAlign: 'center', padding: 0,
      textStyle: {fontSize: 26, fontWeight: 'normal', color: '#111', fontFamily: font}},
    {text: 'ASR20 + ICA', left: 1629, top: 60, textAlign: 'center', padding: 0,
      textStyle: {fontSize: 26, fontWeight: 'normal', color: '#111', fontFamily: font}}
  ],
  legend: {
    data: [leftName, rightName], left: 1545, top: 110, padding: 0,
    icon: 'rect', itemWidth: 50, itemHeight: 3, itemGap: 52,
    textStyle: {fontSize: 22, color: '#111', fontFamily: font},
    selectedMode: false
  },
  grid: grids,
  xAxis: xAxes,
  yAxis: yAxes,
  series: series
});
</script>
</body>
</html>
